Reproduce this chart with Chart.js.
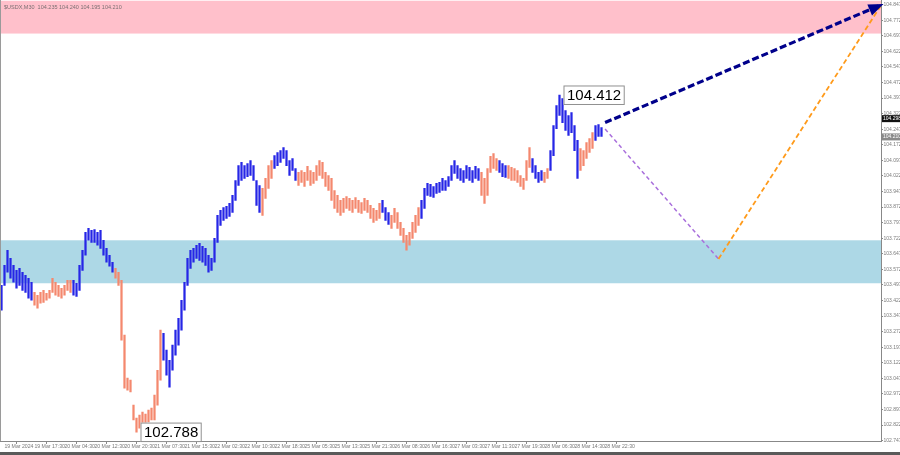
<!DOCTYPE html>
<html><head><meta charset="utf-8">
<script src="https://cdn.jsdelivr.net/npm/chart.js@4/dist/chart.umd.min.js"></script>
<style>
html,body{margin:0;padding:0;background:#5a5a5a;width:900px;height:455px;overflow:hidden}
#wrap{position:relative;width:900px;height:452px;background:#fff}
#hdr{position:absolute;left:4px;top:4px;font:5.5px "Liberation Sans",Arial,sans-serif;color:#7a6f72;white-space:pre}
</style></head><body>
<div id="wrap"><canvas id="c" width="900" height="452"></canvas><div id="hdr">$USDX,M30  104.235 104.240 104.195 104.210</div></div>
<script>
// ---- data ----
const timeLabels = ["19 Mar 2024","19 Mar 17:30","20 Mar 04:30","20 Mar 12:30","20 Mar 20:30","21 Mar 07:30","21 Mar 15:30","22 Mar 02:30","22 Mar 10:30","22 Mar 18:30","25 Mar 05:30","25 Mar 13:30","25 Mar 21:30","26 Mar 08:30","26 Mar 16:30","27 Mar 03:30","27 Mar 11:30","27 Mar 19:30","28 Mar 06:30","28 Mar 14:30","28 Mar 22:30"];
const priceTicks = [104.847,104.772,104.697,104.622,104.547,104.472,104.397,104.322,104.247,104.172,104.097,104.022,103.947,103.872,103.797,103.722,103.647,103.572,103.497,103.422,103.347,103.272,103.197,103.122,103.047,102.972,102.897,102.822,102.747];
const highs = [103.495,103.591,103.664,103.625,103.591,103.567,103.577,103.558,103.543,103.529,
103.510,103.461,103.447,103.461,103.471,103.457,103.471,103.529,103.510,103.495,
103.481,103.495,103.519,103.519,103.519,103.505,103.591,103.664,103.750,103.769,
103.760,103.764,103.750,103.760,103.712,103.673,103.640,103.606,103.577,103.558,
103.519,103.255,103.048,103.038,102.918,102.855,102.870,102.884,102.875,102.894,
102.904,102.966,103.086,103.279,103.264,103.183,103.134,103.207,103.279,103.336,
103.423,103.510,103.625,103.664,103.673,103.688,103.697,103.683,103.673,103.640,
103.625,103.721,103.832,103.856,103.870,103.875,103.890,103.928,104.000,104.072,
104.087,104.072,104.082,104.096,104.072,104.000,103.976,103.962,104.010,104.072,
104.096,104.120,104.135,104.144,104.159,104.144,104.096,104.106,104.058,104.039,
104.048,104.039,104.068,104.048,104.039,104.072,104.096,104.087,104.039,104.024,
104.010,103.952,103.928,103.904,103.914,103.923,103.914,103.904,103.918,103.904,
103.894,103.914,103.904,103.880,103.866,103.856,103.890,103.904,103.870,103.846,
103.832,103.866,103.846,103.798,103.769,103.736,103.750,103.798,103.832,103.870,
103.904,103.962,103.986,103.981,103.971,103.986,103.991,104.010,104.000,104.019,
104.072,104.096,104.072,104.058,104.048,104.072,104.063,104.048,104.068,104.058,
104.039,104.010,104.058,104.116,104.130,104.106,104.096,104.082,104.072,104.072,
104.063,104.058,104.048,104.024,104.010,104.096,104.159,104.106,104.072,104.039,
104.048,104.039,104.058,104.144,104.265,104.361,104.412,104.395,104.337,104.313,
104.327,104.265,104.193,104.154,104.144,104.183,104.202,104.231,104.265,104.270,
104.255];
const lows = [103.375,103.495,103.558,103.529,103.510,103.481,103.495,103.471,103.461,103.433,
103.423,103.399,103.385,103.409,103.413,103.423,103.433,103.461,103.447,103.442,
103.433,103.447,103.471,103.461,103.447,103.442,103.471,103.567,103.640,103.712,
103.702,103.702,103.688,103.673,103.640,103.606,103.587,103.558,103.529,103.495,
103.231,103.000,102.990,102.981,102.846,102.788,102.807,102.827,102.822,102.836,
102.846,102.846,102.918,103.038,103.134,103.062,103.004,103.086,103.158,103.207,
103.279,103.375,103.495,103.577,103.606,103.625,103.615,103.606,103.591,103.558,
103.567,103.606,103.702,103.784,103.808,103.817,103.827,103.846,103.904,103.976,
104.000,104.010,104.019,104.024,104.000,103.880,103.846,103.832,103.914,103.962,
104.010,104.058,104.072,104.087,104.106,104.072,104.024,104.048,104.000,103.976,
103.991,103.971,104.000,103.976,103.986,104.000,104.024,104.010,103.971,103.952,
103.904,103.866,103.846,103.832,103.846,103.866,103.856,103.846,103.866,103.846,
103.841,103.856,103.846,103.817,103.798,103.808,103.817,103.846,103.808,103.789,
103.769,103.798,103.769,103.736,103.702,103.664,103.688,103.721,103.750,103.784,
103.817,103.866,103.928,103.923,103.918,103.938,103.942,103.952,103.952,103.971,
104.000,104.034,104.010,104.000,103.991,104.010,104.000,103.991,104.010,104.000,
103.928,103.890,103.928,104.039,104.058,104.048,104.039,104.019,104.015,104.010,
104.000,104.000,103.991,103.971,103.957,104.000,104.063,104.039,104.010,103.991,
104.000,103.991,104.010,104.048,104.120,104.250,104.313,104.279,104.241,104.217,
104.231,104.144,104.010,104.048,104.072,104.106,104.135,104.154,104.193,104.212,
104.212];
// bar index ranges belonging to falling waves (others are rising waves)
const fallingWaves = [[11,23],[38,53],[87,90],[99,126],[130,139],[160,165],[169,176],[181,182],[193,197]];
const pinkZone = [104.708, 104.866];
const blueZone = [103.505, 103.712];
const navyPath = [{x:201.2,y:104.279},{x:293,y:104.845}];
const purplePath = [{x:201.2,y:104.248},{x:239,y:103.622}];
const orangePath = [{x:239,y:103.622},{x:293,y:104.840}];
const highLabel = {i:186, v:104.412, text:"104.412"};
const lowLabel = {i:45, v:102.788, text:"102.788"};
const askTag = {v:104.298, text:"104.298"};
const bidTag = {v:104.210, text:"104.210"};

// ---- build ----
const UP = '#2626e6', DOWN = '#f4886e';
const barData = highs.map((h,i)=>({x:i, y:[lows[i], h]}));
const barColors = highs.map((_,i)=> fallingWaves.some(r=>i>=r[0]&&i<=r[1]) ? DOWN : UP);
const FONT = '"Liberation Sans", Arial, sans-serif';

const overlay = {
  id:'overlay',
  beforeDatasetsDraw(chart){
    const {ctx, chartArea:a, scales:{y}} = chart;
    ctx.save();
    const z = (zn,col)=>{ const t=Math.max(0,y.getPixelForValue(zn[1])), b=y.getPixelForValue(zn[0]);
      ctx.fillStyle=col; ctx.fillRect(a.left, t, a.right-a.left, b-t); };
    z(pinkZone,'#ffc0cb'); z(blueZone,'#add8e6');
    ctx.restore();
  },
  afterDatasetsDraw(chart){
    const {ctx, chartArea:a, scales:{x,y}} = chart;
    ctx.save();
    // arrowhead on navy line
    const p0x=x.getPixelForValue(navyPath[0].x), p0y=y.getPixelForValue(navyPath[0].y);
    const p1x=x.getPixelForValue(navyPath[1].x)+3, p1y=y.getPixelForValue(navyPath[1].y)-1;
    const ang=Math.atan2(p1y-p0y,p1x-p0x), L=15, W=6;
    ctx.fillStyle='#00008b'; ctx.beginPath();
    ctx.moveTo(p1x,p1y);
    ctx.lineTo(p1x-L*Math.cos(ang)+W*Math.sin(ang), p1y-L*Math.sin(ang)-W*Math.cos(ang));
    ctx.lineTo(p1x-L*Math.cos(ang)-W*Math.sin(ang), p1y-L*Math.sin(ang)+W*Math.cos(ang));
    ctx.closePath(); ctx.fill();
    // value labels
    ctx.font='15px '+FONT; ctx.textBaseline='middle';
    [highLabel, lowLabel].forEach(l=>{
      const px=x.getPixelForValue(l.i)+4, py=y.getPixelForValue(l.v);
      const w=ctx.measureText(l.text).width+6;
      ctx.fillStyle='#fff'; ctx.fillRect(px,py-9.5,w,19);
      ctx.strokeStyle='#909090'; ctx.lineWidth=1; ctx.strokeRect(px+0.5,py-9,w,18.5);
      ctx.fillStyle='#000'; ctx.fillText(l.text, px+3.5, py+0.5);
    });
    // price tags on axis
    ctx.font='5px '+FONT;
    [[askTag,'#111','#fff'],[bidTag,'#8a8a8a','#fff']].forEach(([t,bg,fg])=>{
      const py=y.getPixelForValue(t.v);
      ctx.fillStyle=bg; ctx.fillRect(a.right+1,py-3.5,18,7);
      ctx.fillStyle=fg; ctx.fillText(t.text,a.right+2,py);
    });
    // left frame
    ctx.fillStyle='#9a9a9a'; ctx.fillRect(0,0,1,a.bottom);
    ctx.restore();
  }
};

new Chart(document.getElementById('c'), {
  data:{datasets:[
    {type:'bar', data:barData, backgroundColor:barColors, barThickness:1.6, borderWidth:0, grouped:false, order:3},
    {type:'line', data:purplePath, borderColor:'#a96fdc', borderWidth:1.5, borderDash:[4,3], pointRadius:0, order:2, clip:false},
    {type:'line', data:orangePath, borderColor:'#ff9a1a', borderWidth:1.8, borderDash:[5,3], pointRadius:0, order:1, clip:false},
    {type:'line', data:navyPath, borderColor:'#00008b', borderWidth:3.2, borderDash:[7,3], pointRadius:0, order:0, clip:false}
  ]},
  options:{
    responsive:false, animation:false, devicePixelRatio:1,
    layout:{padding:0},
    plugins:{legend:{display:false}, tooltip:{enabled:false}},
    scales:{
      x:{type:'linear', min:-0.5, max:293.17, offset:false,
        afterFit(s){s.height=11;},
        afterBuildTicks(s){s.ticks=timeLabels.map((_,k)=>({value:k*10}));},
        grid:{drawOnChartArea:false, drawTicks:true, tickLength:3, color:'#888'},
        border:{display:true, color:'#888'},
        ticks:{autoSkip:false, maxRotation:0, align:'start', padding:0, color:'#7a7a7a',
          font:{family:FONT, size:5.2, lineHeight:1},
          callback:(v,i)=>'  '+timeLabels[i]}},
      y:{type:'linear', position:'right', min:102.745, max:104.866,
        afterFit(s){s.width=19;},
        afterBuildTicks(s){s.ticks=priceTicks.map(v=>({value:v}));},
        grid:{drawOnChartArea:false, drawTicks:true, tickLength:2, color:'#888'},
        border:{display:true, color:'#888'},
        ticks:{autoSkip:false, padding:0.5, color:'#7a7a7a',
          font:{family:FONT, size:5, lineHeight:0.1},
          callback:v=>v.toFixed(3)}}
    }
  },
  plugins:[overlay]
});
</script></body></html>
